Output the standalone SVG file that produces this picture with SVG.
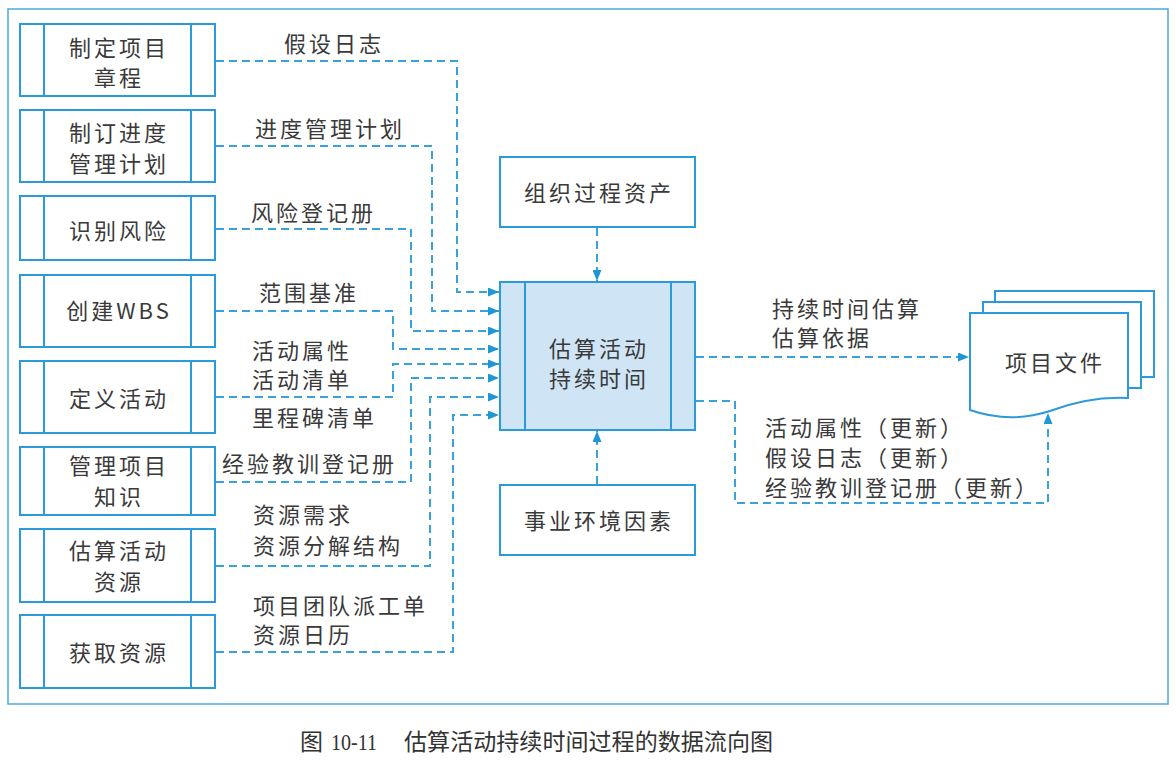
<svg xmlns="http://www.w3.org/2000/svg" width="1176" height="767" viewBox="0 0 1176 767">
<style>
.box{fill:#ffffff;stroke:#2a9bd8;stroke-width:2}
.proc{fill:#cfe5f6;stroke:#2a9bd8;stroke-width:2}
.ln{stroke:#2a9bd8;stroke-width:2;fill:none}
.t{font-family:"Noto Sans CJK SC","Noto Sans",sans-serif;font-size:22px;fill:#3a3a3a;letter-spacing:3px}
.m{text-anchor:middle}
.c{fill:none;stroke:#3aa2d8;stroke-width:2;stroke-dasharray:8 5}
.cap{font-family:"Liberation Serif","Noto Sans CJK SC",serif;font-size:23px;fill:#333}
</style>
<defs>
<marker id="ar" markerWidth="11" markerHeight="9" refX="11" refY="4.5" orient="auto" markerUnits="userSpaceOnUse">
<path d="M0,0 L11,4.5 L0,9 z" fill="#1f96d6"/>
</marker>
</defs>
<rect x="8" y="9" width="1160" height="695" fill="none" stroke="#4aaade" stroke-width="1.5"/>

<g id="n1"><rect class="box" x="20" y="24" width="195" height="72"/><line class="ln" x1="44" y1="24" x2="44" y2="96"/><line class="ln" x1="191" y1="24" x2="191" y2="96"/><text class="t m" x="119" y="56">制定项目</text><text class="t m" x="119" y="86">章程</text></g>
<g id="n2"><rect class="box" x="20" y="110" width="195" height="72"/><line class="ln" x1="44" y1="110" x2="44" y2="182"/><line class="ln" x1="191" y1="110" x2="191" y2="182"/><text class="t m" x="119" y="141">制订进度</text><text class="t m" x="119" y="172">管理计划</text></g>
<g id="n3"><rect class="box" x="20" y="196" width="195" height="64"/><line class="ln" x1="44" y1="196" x2="44" y2="260"/><line class="ln" x1="191" y1="196" x2="191" y2="260"/><text class="t m" x="119" y="239">识别风险</text></g>
<g id="n4"><rect class="box" x="20" y="275" width="195" height="72"/><line class="ln" x1="44" y1="275" x2="44" y2="347"/><line class="ln" x1="191" y1="275" x2="191" y2="347"/><text class="t m" x="119" y="319">创建WBS</text></g>
<g id="n5"><rect class="box" x="20" y="361" width="195" height="72"/><line class="ln" x1="44" y1="361" x2="44" y2="433"/><line class="ln" x1="191" y1="361" x2="191" y2="433"/><text class="t m" x="119" y="407">定义活动</text></g>
<g id="n6"><rect class="box" x="20" y="447" width="195" height="68"/><line class="ln" x1="44" y1="447" x2="44" y2="515"/><line class="ln" x1="191" y1="447" x2="191" y2="515"/><text class="t m" x="119" y="474">管理项目</text><text class="t m" x="119" y="505">知识</text></g>
<g id="n7"><rect class="box" x="20" y="529" width="195" height="73"/><line class="ln" x1="44" y1="529" x2="44" y2="602"/><line class="ln" x1="191" y1="529" x2="191" y2="602"/><text class="t m" x="119" y="559">估算活动</text><text class="t m" x="119" y="590">资源</text></g>
<g id="n8"><rect class="box" x="20" y="615" width="195" height="73"/><line class="ln" x1="44" y1="615" x2="44" y2="688"/><line class="ln" x1="191" y1="615" x2="191" y2="688"/><text class="t m" x="119" y="661">获取资源</text></g>

<g id="opa"><rect class="box" x="500" y="157" width="195" height="70"/><text class="t m" x="599" y="201">组织过程资产</text></g>
<g id="eef"><rect class="box" x="500" y="485" width="195" height="70"/><text class="t m" x="599" y="529">事业环境因素</text></g>
<g id="proc"><rect class="proc" x="500" y="282" width="195" height="148"/><line class="ln" x1="525" y1="282" x2="525" y2="430"/><line class="ln" x1="671" y1="282" x2="671" y2="430"/><text class="t m" x="599" y="357">估算活动</text><text class="t m" x="599" y="387">持续时间</text></g>

<g id="docs">
<rect x="995" y="291" width="159" height="86" fill="#fff" stroke="#2a9bd8" stroke-width="2"/>
<rect x="983" y="302" width="158" height="86" fill="#fff" stroke="#2a9bd8" stroke-width="2"/>
<path d="M970 313 H1128 V398 Q1090 396 1050 411 Q1010 424 970 410 Z" fill="#fff" stroke="#2a9bd8" stroke-width="2"/>
<text class="t m" x="1055" y="371">项目文件</text>
</g>

<g id="connectors">
<path class="c" d="M216 61 H457 V292 H499" marker-end="url(#ar)"/>
<path class="c" d="M216 146 H432 V311 H499" marker-end="url(#ar)"/>
<path class="c" d="M216 229 H411 V331 H499" marker-end="url(#ar)"/>
<path class="c" d="M216 311 H393 V349 H499" marker-end="url(#ar)"/>
<path class="c" d="M216 397 H393 V364 H499" marker-end="url(#ar)"/>
<path class="c" d="M216 482 H411 V378 H499" marker-end="url(#ar)"/>
<path class="c" d="M216 566 H430 V397 H499" marker-end="url(#ar)"/>
<path class="c" d="M216 652 H453 V415 H499" marker-end="url(#ar)"/>
<path class="c" d="M597 228 V281" marker-end="url(#ar)"/>
<path class="c" d="M597 484 V431" marker-end="url(#ar)"/>
<path class="c" d="M696 357 H969" marker-end="url(#ar)"/>
<path class="c" d="M696 401 H735 V503 H1048 V413" marker-end="url(#ar)"/>
</g>

<g id="labels">
<text class="t" x="284" y="52">假设日志</text>
<text class="t" x="255" y="137">进度管理计划</text>
<text class="t" x="251" y="221">风险登记册</text>
<text class="t" x="259" y="301">范围基准</text>
<text class="t" x="252" y="359">活动属性</text>
<text class="t" x="252" y="388">活动清单</text>
<text class="t" x="252" y="426">里程碑清单</text>
<text class="t" x="222" y="472">经验教训登记册</text>
<text class="t" x="253" y="523">资源需求</text>
<text class="t" x="253" y="554">资源分解结构</text>
<text class="t" x="253" y="614">项目团队派工单</text>
<text class="t" x="253" y="643">资源日历</text>
<text class="t" x="772" y="317">持续时间估算</text>
<text class="t" x="772" y="346">估算依据</text>
<text class="t" x="765" y="436">活动属性（更新）</text>
<text class="t" x="765" y="466">假设日志（更新）</text>
<text class="t" x="765" y="496">经验教训登记册（更新）</text>
</g>

<g id="caption">
<text class="cap" x="300" y="750">图</text>
<text class="cap" x="331" y="750" textLength="46" lengthAdjust="spacingAndGlyphs">10-11</text>
<text class="cap" x="404" y="750" textLength="369" lengthAdjust="spacingAndGlyphs">估算活动持续时间过程的数据流向图</text>
</g>
</svg>
